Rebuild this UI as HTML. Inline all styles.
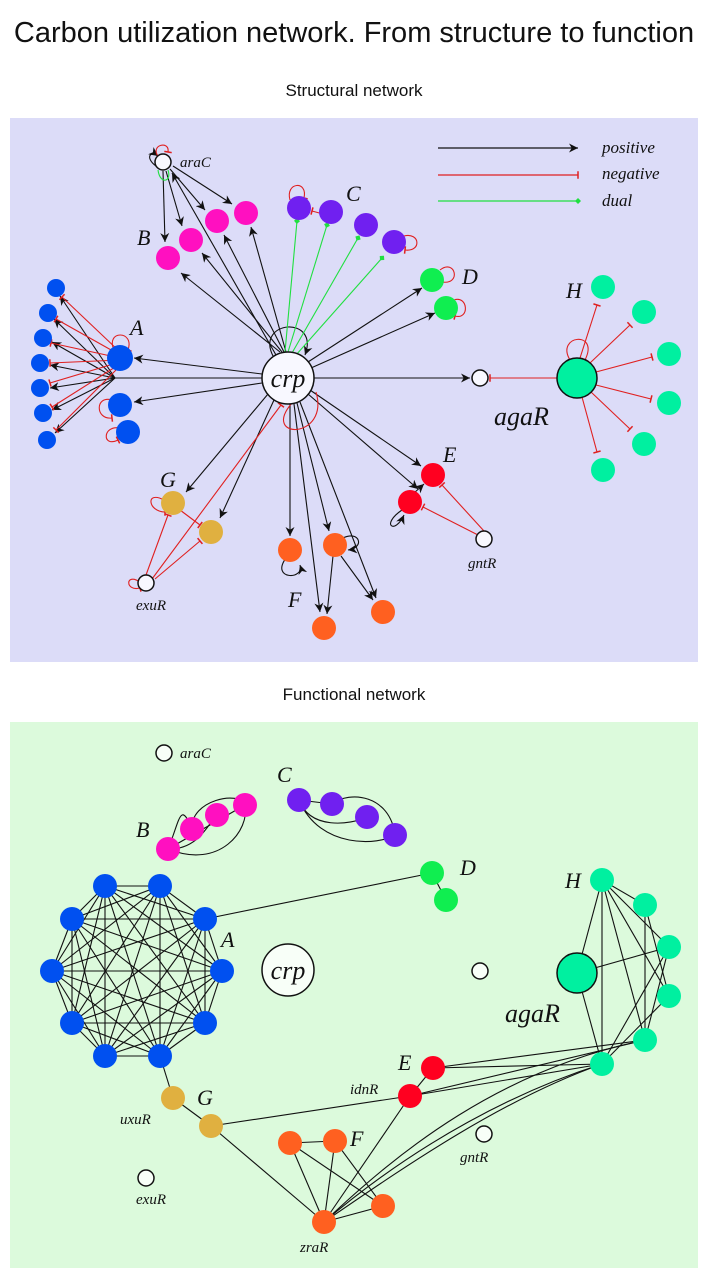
<!DOCTYPE html>
<html><head><meta charset="utf-8"><style>
body{margin:0;background:#fff;width:708px;height:1275px;overflow:hidden}
svg{display:block}
.t{font-family:"Liberation Sans",sans-serif;fill:#111}
.l{font-family:"Liberation Serif",serif;font-style:italic;fill:#111}
</style></head><body>
<svg width="708" height="1275" viewBox="0 0 708 1275" xmlns="http://www.w3.org/2000/svg">
<defs>
<marker id="ar" viewBox="0 0 10 10" refX="10" refY="5" markerWidth="9" markerHeight="9" orient="auto" markerUnits="userSpaceOnUse"><path d="M0,0 L10,5 L0,10 L3,5z" fill="#111"/></marker>
<marker id="bar" viewBox="0 0 4 10" refX="2" refY="5" markerWidth="3" markerHeight="9" orient="auto" markerUnits="userSpaceOnUse"><path d="M2,0 L2,10" stroke="#e02020" stroke-width="2"/></marker>
<marker id="dia" viewBox="0 0 10 10" refX="5" refY="5" markerWidth="6" markerHeight="6" orient="auto" markerUnits="userSpaceOnUse"><path d="M0,5 L5,0 L10,5 L5,10z" fill="#20e040"/></marker>
</defs>
<text class="t" x="354" y="42" font-size="29" text-anchor="middle">Carbon utilization network. From structure to function</text>
<text class="t" x="354" y="96" font-size="17" text-anchor="middle">Structural network</text>
<text class="t" x="354" y="700" font-size="17" text-anchor="middle">Functional network</text>
<rect x="10" y="118" width="688" height="544" fill="#dcdcf8"/>
<rect x="10" y="722" width="688" height="546" fill="#dcfadc"/>

<!-- legend -->
<g stroke-width="1.3">
<line x1="438" y1="148" x2="578" y2="148" stroke="#111" marker-end="url(#ar)"/>
<line x1="438" y1="175" x2="578" y2="175" stroke="#e02020" marker-end="url(#bar)"/>
<line x1="438" y1="201" x2="578" y2="201" stroke="#20e040" marker-end="url(#dia)"/>
</g>
<text class="l" x="602" y="153" font-size="17">positive</text>
<text class="l" x="602" y="179" font-size="17">negative</text>
<text class="l" x="602" y="206" font-size="17">dual</text>

<!-- structural edges -->
<g stroke="#111" stroke-width="1.1" fill="none" marker-end="url(#ar)">
<line x1="276" y1="355" x2="172" y2="173"/>
<line x1="280" y1="352" x2="181" y2="273"/>
<line x1="282" y1="352" x2="202" y2="253"/>
<line x1="284" y1="352" x2="224" y2="235"/>
<line x1="286" y1="352" x2="251" y2="227"/>
<line x1="163" y1="171" x2="165" y2="242"/>
<line x1="166" y1="171" x2="182" y2="226"/>
<line x1="170" y1="169" x2="205" y2="210"/>
<line x1="173" y1="166" x2="232" y2="204"/>
<line x1="262" y1="374" x2="134" y2="358"/>
<line x1="262" y1="383" x2="134" y2="402"/>
<line x1="262" y1="378" x2="115" y2="378" marker-end="none"/>
<line x1="115" y1="378" x2="60" y2="296"/>
<line x1="115" y1="378" x2="54" y2="319"/>
<line x1="115" y1="378" x2="52" y2="342"/>
<line x1="115" y1="378" x2="50" y2="365"/>
<line x1="115" y1="378" x2="50" y2="388"/>
<line x1="115" y1="378" x2="52" y2="410"/>
<line x1="115" y1="378" x2="55" y2="433"/>
<line x1="314" y1="378" x2="470" y2="378"/>
<line x1="308" y1="362" x2="422" y2="288"/>
<line x1="311" y1="368" x2="435" y2="313"/>
<line x1="268" y1="394" x2="186" y2="492"/>
<line x1="274" y1="400" x2="220" y2="518"/>
<line x1="290" y1="404" x2="290" y2="536"/>
<line x1="294" y1="404" x2="320" y2="612"/>
<line x1="297" y1="403" x2="329" y2="531"/>
<line x1="300" y1="402" x2="376" y2="598"/>
<line x1="308" y1="394" x2="418" y2="489"/>
<line x1="310" y1="390" x2="421" y2="466"/>
<line x1="333" y1="556" x2="327" y2="614"/>
<line x1="341" y1="556" x2="373" y2="600"/>
<line x1="414" y1="493" x2="424" y2="484"/>
<path d="M273,356 C255,320 320,315 305,355"/>
<path d="M156,166 C145,158 150,150 158,156" marker-end="url(#ar)"/>
<path d="M286,558 C270,580 305,580 300,565"/>
<path d="M343,538 C360,530 365,548 348,550"/>
<path d="M402,510 C380,525 395,535 404,515"/>
</g>
<g stroke="#20e040" stroke-width="1.1" fill="none" marker-end="url(#dia)">
<line x1="285" y1="352" x2="297" y2="221"/>
<line x1="288" y1="352" x2="327" y2="225"/>
<line x1="292" y1="353" x2="358" y2="238"/>
<line x1="296" y1="355" x2="382" y2="258"/>
<path d="M158,170 C160,185 172,182 168,170" marker-end="none"/>
</g>
<g stroke="#e02020" stroke-width="1.1" fill="none" marker-end="url(#bar)">
<line x1="120" y1="352" x2="62" y2="297"/>
<line x1="120" y1="355" x2="56" y2="319"/>
<line x1="120" y1="358" x2="51" y2="343"/>
<line x1="120" y1="360" x2="50" y2="363"/>
<line x1="120" y1="362" x2="50" y2="383"/>
<line x1="120" y1="364" x2="52" y2="407"/>
<line x1="120" y1="366" x2="56" y2="430"/>
<line x1="491" y1="378" x2="557" y2="378" marker-end="none"/>
<line x1="557" y1="378" x2="490" y2="378"/>
<line x1="580" y1="358" x2="597" y2="305"/>
<line x1="590" y1="363" x2="630" y2="325"/>
<line x1="596" y1="372" x2="652" y2="357"/>
<line x1="596" y1="385" x2="651" y2="399"/>
<line x1="591" y1="392" x2="630" y2="429"/>
<line x1="582" y1="397" x2="597" y2="452"/>
<line x1="484" y1="531" x2="442" y2="485"/>
<line x1="478" y1="535" x2="423" y2="507"/>
<line x1="146" y1="575" x2="168" y2="515"/>
<line x1="152" y1="579" x2="281" y2="405"/>
<line x1="155" y1="579" x2="200" y2="541"/>
<line x1="180" y1="510" x2="200" y2="525"/>
<line x1="323" y1="214" x2="312" y2="211"/>
<path d="M292,403 C260,440 330,440 316,392" marker-end="none"/>
<path d="M158,156 C150,145 170,140 168,152"/>
<path d="M114,350 C105,330 135,330 128,350"/>
<path d="M164,500 C145,490 148,512 165,512"/>
<path d="M112,400 C95,395 95,420 112,418"/>
<path d="M120,428 C102,425 102,448 118,440"/>
<path d="M290,200 C285,182 308,180 304,198"/>
<path d="M404,236 C420,232 422,252 405,250"/>
<path d="M440,270 C455,258 462,285 442,282"/>
<path d="M454,300 C468,295 470,320 455,316"/>
<path d="M140,582 C125,572 125,592 140,588"/>
<path d="M570,360 C555,335 600,330 585,360"/>
</g>

<!-- structural nodes -->
<g stroke="#111" stroke-width="1.5" fill="#f8f8ff">
<circle cx="288" cy="378" r="26"/>
<circle cx="163" cy="162" r="8"/>
<circle cx="480" cy="378" r="8"/>
<circle cx="146" cy="583" r="8"/>
<circle cx="484" cy="539" r="8"/>
<circle cx="577" cy="378" r="20" fill="#00f0a0"/>
</g>
<g fill="#ff10c0"><circle cx="168" cy="258" r="12"/><circle cx="191" cy="240" r="12"/><circle cx="217" cy="221" r="12"/><circle cx="246" cy="213" r="12"/></g>
<g fill="#7020f0"><circle cx="299" cy="208" r="12"/><circle cx="331" cy="212" r="12"/><circle cx="366" cy="225" r="12"/><circle cx="394" cy="242" r="12"/></g>
<g fill="#10ee50"><circle cx="432" cy="280" r="12"/><circle cx="446" cy="308" r="12"/></g>
<g fill="#0050f0"><circle cx="120" cy="358" r="13"/><circle cx="120" cy="405" r="12"/><circle cx="128" cy="432" r="12"/>
<circle cx="56" cy="288" r="9"/><circle cx="48" cy="313" r="9"/><circle cx="43" cy="338" r="9"/><circle cx="40" cy="363" r="9"/><circle cx="40" cy="388" r="9"/><circle cx="43" cy="413" r="9"/><circle cx="47" cy="440" r="9"/></g>
<g fill="#e0b040"><circle cx="173" cy="503" r="12"/><circle cx="211" cy="532" r="12"/></g>
<g fill="#ff6020"><circle cx="290" cy="550" r="12"/><circle cx="335" cy="545" r="12"/><circle cx="324" cy="628" r="12"/><circle cx="383" cy="612" r="12"/></g>
<g fill="#ff0020"><circle cx="433" cy="475" r="12"/><circle cx="410" cy="502" r="12"/></g>
<g fill="#00f0a0"><circle cx="603" cy="287" r="12"/><circle cx="644" cy="312" r="12"/><circle cx="669" cy="354" r="12"/><circle cx="669" cy="403" r="12"/><circle cx="644" cy="444" r="12"/><circle cx="603" cy="470" r="12"/></g>
<text class="l" x="288" y="387" font-size="26" text-anchor="middle">crp</text>
<text class="l" x="180" y="167" font-size="15">araC</text>
<text class="l" x="137" y="245" font-size="22">B</text>
<text class="l" x="346" y="201" font-size="22">C</text>
<text class="l" x="462" y="284" font-size="22">D</text>
<text class="l" x="130" y="335" font-size="22">A</text>
<text class="l" x="160" y="487" font-size="22">G</text>
<text class="l" x="288" y="607" font-size="22">F</text>
<text class="l" x="443" y="462" font-size="22">E</text>
<text class="l" x="566" y="298" font-size="22">H</text>
<text class="l" x="494" y="425" font-size="26">agaR</text>
<text class="l" x="136" y="610" font-size="15">exuR</text>
<text class="l" x="468" y="568" font-size="15">gntR</text>

<!-- functional edges -->
<g stroke="#111" stroke-width="1.1" fill="none">
<path d="M168,849 C180,820 180,800 192,829"/>
<path d="M168,849 C200,850 210,820 217,815"/>
<path d="M168,849 C220,870 250,830 245,805"/>
<path d="M192,829 C190,800 240,790 245,805"/>
<line x1="168" y1="849" x2="245" y2="805"/>
<line x1="299" y1="800" x2="332" y2="804"/>
<path d="M299,800 C310,830 350,825 367,817"/>
<path d="M299,800 C320,850 380,845 395,835"/>
<path d="M332,804 C350,790 390,795 395,835"/>
<line x1="205" y1="919" x2="432" y2="873"/>
<line x1="432" y1="873" x2="446" y2="900"/>
<line x1="160" y1="1056" x2="173" y2="1098"/>
<line x1="173" y1="1098" x2="211" y2="1126"/>
<line x1="211" y1="1126" x2="324" y2="1222"/>
<line x1="211" y1="1126" x2="410" y2="1096"/>
<line x1="290" y1="1143" x2="335" y2="1141"/>
<line x1="290" y1="1143" x2="324" y2="1222"/>
<line x1="290" y1="1143" x2="383" y2="1206"/>
<line x1="335" y1="1141" x2="324" y2="1222"/>
<line x1="335" y1="1141" x2="383" y2="1206"/>
<line x1="324" y1="1222" x2="383" y2="1206"/>
<line x1="324" y1="1222" x2="410" y2="1096"/>
<line x1="410" y1="1096" x2="433" y2="1068"/>
<path d="M324,1222 C400,1150 500,1070 645,1040"/>
<path d="M324,1222 C420,1140 520,1090 602,1064"/>
<path d="M324,1222 C400,1170 500,1100 602,1064"/>
<line x1="433" y1="1068" x2="602" y2="1064"/>
<line x1="433" y1="1068" x2="645" y2="1040"/>
<line x1="410" y1="1096" x2="602" y2="1064"/>
<line x1="410" y1="1096" x2="645" y2="1040"/>
<line x1="577" y1="973" x2="602" y2="880"/>
<line x1="577" y1="973" x2="602" y2="1064"/>
<line x1="577" y1="973" x2="669" y2="947"/>
<line x1="602" y1="880" x2="602" y2="1064"/>
<line x1="602" y1="880" x2="645" y2="905"/>
<line x1="602" y1="880" x2="669" y2="947"/>
<line x1="602" y1="880" x2="669" y2="996"/>
<line x1="602" y1="880" x2="645" y2="1040"/>
<line x1="645" y1="905" x2="645" y2="1040"/>
<line x1="645" y1="905" x2="669" y2="996"/>
<line x1="669" y1="947" x2="602" y2="1064"/>
<line x1="669" y1="947" x2="645" y2="1040"/>
<line x1="669" y1="996" x2="602" y2="1064"/>
</g>
<g stroke="#111" stroke-width="1.1" id="clique">
<!-- ring A complete graph -->
<line x1="105" y1="886" x2="160" y2="886"/><line x1="105" y1="886" x2="72" y2="919"/><line x1="105" y1="886" x2="205" y2="919"/><line x1="105" y1="886" x2="52" y2="971"/><line x1="105" y1="886" x2="222" y2="971"/><line x1="105" y1="886" x2="72" y2="1023"/><line x1="105" y1="886" x2="205" y2="1023"/><line x1="105" y1="886" x2="105" y2="1056"/><line x1="105" y1="886" x2="160" y2="1056"/>
<line x1="160" y1="886" x2="72" y2="919"/><line x1="160" y1="886" x2="205" y2="919"/><line x1="160" y1="886" x2="52" y2="971"/><line x1="160" y1="886" x2="222" y2="971"/><line x1="160" y1="886" x2="72" y2="1023"/><line x1="160" y1="886" x2="205" y2="1023"/><line x1="160" y1="886" x2="105" y2="1056"/><line x1="160" y1="886" x2="160" y2="1056"/>
<line x1="72" y1="919" x2="205" y2="919"/><line x1="72" y1="919" x2="52" y2="971"/><line x1="72" y1="919" x2="222" y2="971"/><line x1="72" y1="919" x2="72" y2="1023"/><line x1="72" y1="919" x2="205" y2="1023"/><line x1="72" y1="919" x2="105" y2="1056"/><line x1="72" y1="919" x2="160" y2="1056"/>
<line x1="205" y1="919" x2="52" y2="971"/><line x1="205" y1="919" x2="222" y2="971"/><line x1="205" y1="919" x2="72" y2="1023"/><line x1="205" y1="919" x2="205" y2="1023"/><line x1="205" y1="919" x2="105" y2="1056"/><line x1="205" y1="919" x2="160" y2="1056"/>
<line x1="52" y1="971" x2="222" y2="971"/><line x1="52" y1="971" x2="72" y2="1023"/><line x1="52" y1="971" x2="205" y2="1023"/><line x1="52" y1="971" x2="105" y2="1056"/><line x1="52" y1="971" x2="160" y2="1056"/>
<line x1="222" y1="971" x2="72" y2="1023"/><line x1="222" y1="971" x2="205" y2="1023"/><line x1="222" y1="971" x2="105" y2="1056"/><line x1="222" y1="971" x2="160" y2="1056"/>
<line x1="72" y1="1023" x2="205" y2="1023"/><line x1="72" y1="1023" x2="105" y2="1056"/><line x1="72" y1="1023" x2="160" y2="1056"/>
<line x1="205" y1="1023" x2="105" y2="1056"/><line x1="205" y1="1023" x2="160" y2="1056"/>
<line x1="105" y1="1056" x2="160" y2="1056"/>
</g>

<!-- functional nodes -->
<g stroke="#111" stroke-width="1.5" fill="#f8fff8">
<circle cx="288" cy="970" r="26"/>
<circle cx="164" cy="753" r="8"/>
<circle cx="480" cy="971" r="8"/>
<circle cx="146" cy="1178" r="8"/>
<circle cx="484" cy="1134" r="8"/>
<circle cx="577" cy="973" r="20" fill="#00f0a0"/>
</g>
<g fill="#ff10c0"><circle cx="168" cy="849" r="12"/><circle cx="192" cy="829" r="12"/><circle cx="217" cy="815" r="12"/><circle cx="245" cy="805" r="12"/></g>
<g fill="#7020f0"><circle cx="299" cy="800" r="12"/><circle cx="332" cy="804" r="12"/><circle cx="367" cy="817" r="12"/><circle cx="395" cy="835" r="12"/></g>
<g fill="#10ee50"><circle cx="432" cy="873" r="12"/><circle cx="446" cy="900" r="12"/></g>
<g fill="#0050f0"><circle cx="105" cy="886" r="12"/><circle cx="160" cy="886" r="12"/><circle cx="72" cy="919" r="12"/><circle cx="205" cy="919" r="12"/><circle cx="52" cy="971" r="12"/><circle cx="222" cy="971" r="12"/><circle cx="72" cy="1023" r="12"/><circle cx="205" cy="1023" r="12"/><circle cx="105" cy="1056" r="12"/><circle cx="160" cy="1056" r="12"/></g>
<g fill="#e0b040"><circle cx="173" cy="1098" r="12"/><circle cx="211" cy="1126" r="12"/></g>
<g fill="#ff6020"><circle cx="290" cy="1143" r="12"/><circle cx="335" cy="1141" r="12"/><circle cx="324" cy="1222" r="12"/><circle cx="383" cy="1206" r="12"/></g>
<g fill="#ff0020"><circle cx="433" cy="1068" r="12"/><circle cx="410" cy="1096" r="12"/></g>
<g fill="#00f0a0"><circle cx="602" cy="880" r="12"/><circle cx="645" cy="905" r="12"/><circle cx="669" cy="947" r="12"/><circle cx="669" cy="996" r="12"/><circle cx="645" cy="1040" r="12"/><circle cx="602" cy="1064" r="12"/></g>
<text class="l" x="288" y="979" font-size="26" text-anchor="middle">crp</text>
<text class="l" x="180" y="758" font-size="15">araC</text>
<text class="l" x="136" y="837" font-size="22">B</text>
<text class="l" x="277" y="782" font-size="22">C</text>
<text class="l" x="460" y="875" font-size="22">D</text>
<text class="l" x="221" y="947" font-size="22">A</text>
<text class="l" x="197" y="1105" font-size="22">G</text>
<text class="l" x="350" y="1146" font-size="22">F</text>
<text class="l" x="398" y="1070" font-size="22">E</text>
<text class="l" x="565" y="888" font-size="22">H</text>
<text class="l" x="505" y="1022" font-size="26">agaR</text>
<text class="l" x="120" y="1124" font-size="15">uxuR</text>
<text class="l" x="350" y="1094" font-size="15">idnR</text>
<text class="l" x="136" y="1204" font-size="15">exuR</text>
<text class="l" x="460" y="1162" font-size="15">gntR</text>
<text class="l" x="300" y="1252" font-size="15">zraR</text>
</svg>
</body></html>
